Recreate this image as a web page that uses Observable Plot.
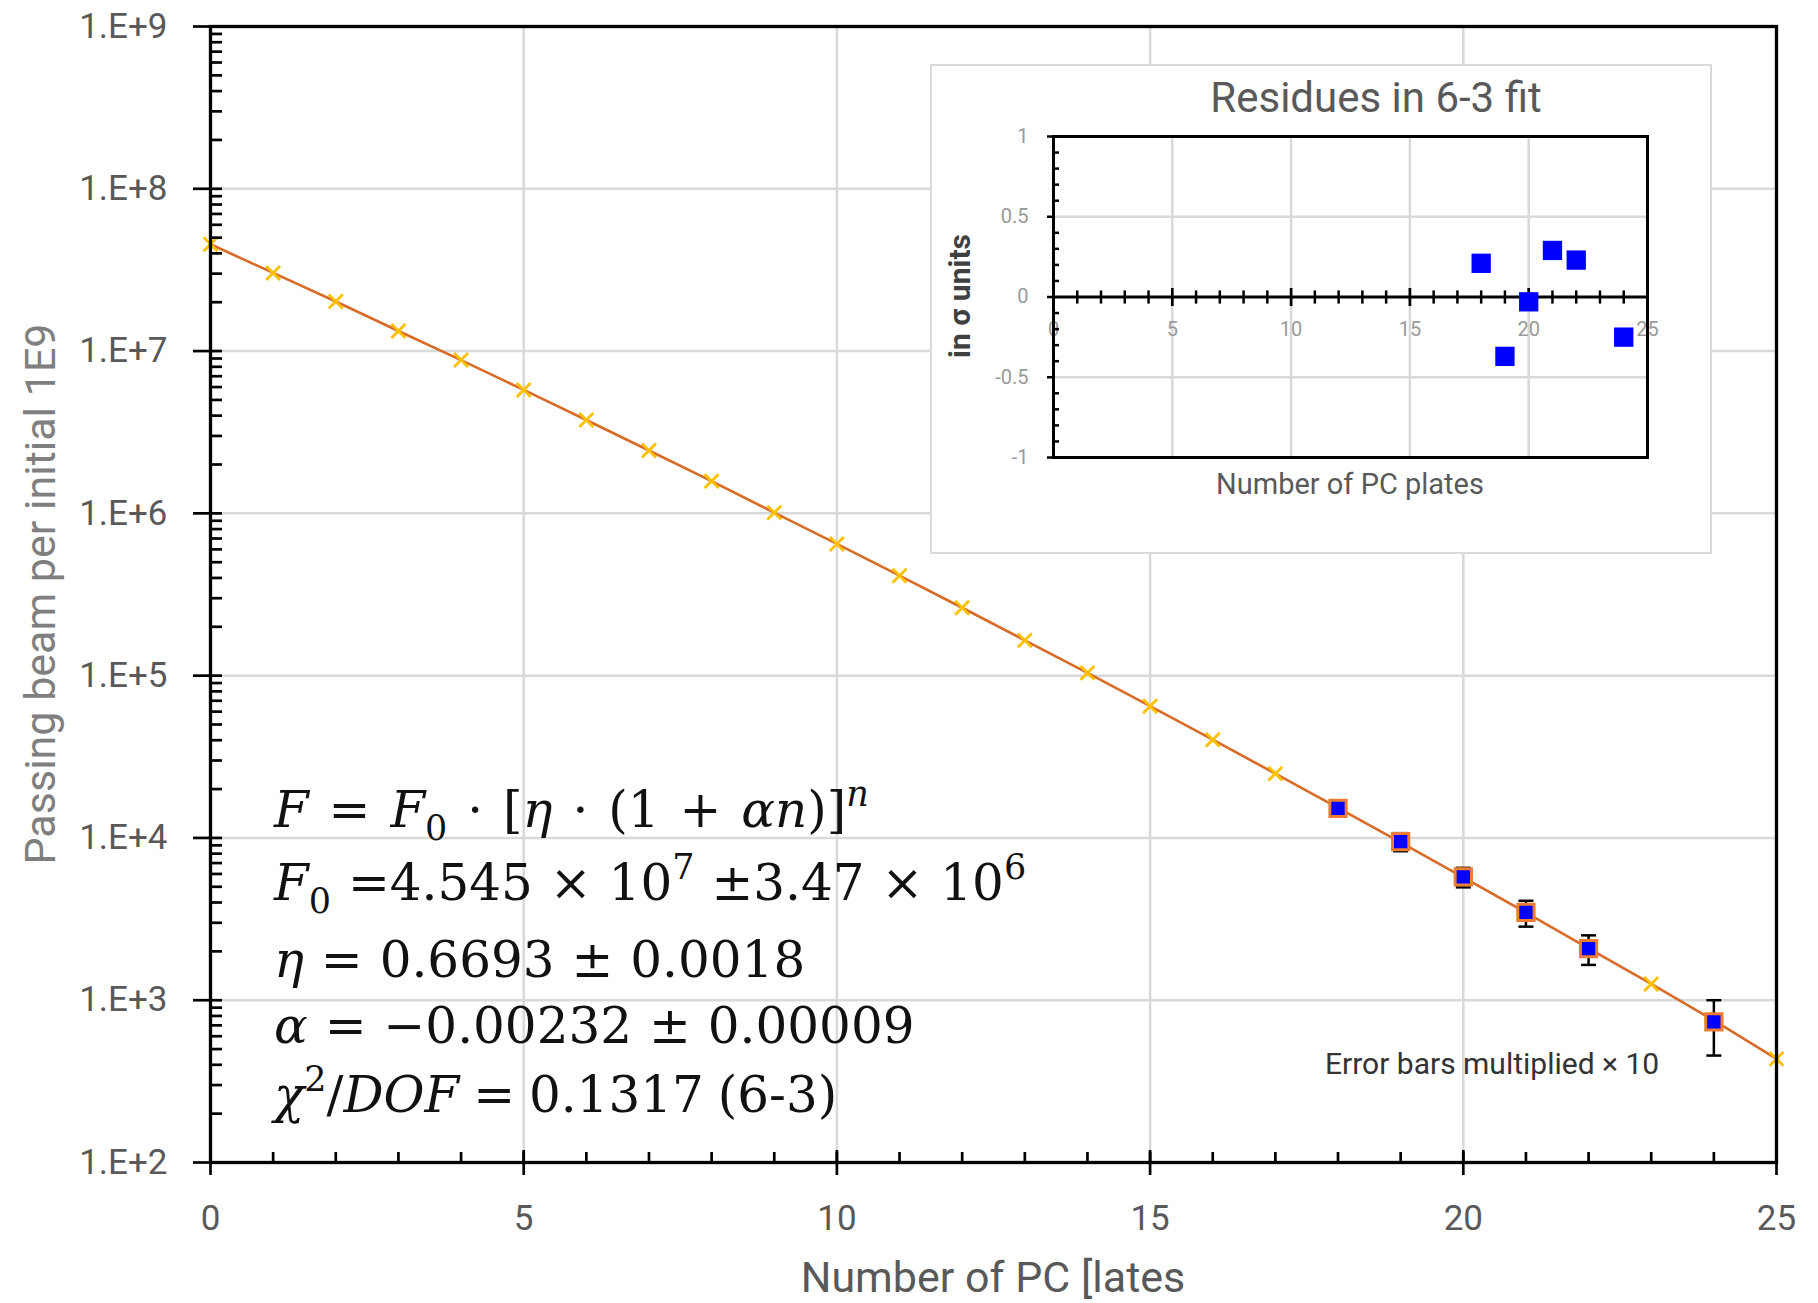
<!DOCTYPE html>
<html>
<head>
<meta charset="utf-8">
<script src="https://cdn.jsdelivr.net/npm/d3@7"></script>
<script src="https://cdn.jsdelivr.net/npm/@observablehq/plot@0.6"></script>
<style>
  html, body { margin: 0; padding: 0; background: #fff; }
  #wrap { position: relative; width: 1818px; height: 1303px; overflow: hidden; }
  #main { position: absolute; left: 0; top: 0; }
  #inset { position: absolute; left: 930px; top: 64px; width: 778px; height: 486px;
           border: 2px solid #d9d9d9; background: #fff; }
  #inset svg { display: block; }
</style>
</head>
<body>
<div id="wrap">
  <div id="main"></div>
  <div id="inset"></div>
</div>
<script>
// ---------- data ----------
const plates = [0,1,2,3,4,5,6,7,8,9,10,11,12,13,14,15,16,17,18,19,20,21,22,23,24,25];
const passingBeam = [4.55e7,3.03e7,2.02e7,1.33e7,8.8e6,5.76e6,3.76e6,2.44e6,1.58e6,1.01e6,
                     6.48e5,4.13e5,2.62e5,1.65e5,1.04e5,6.48e4,4.03e4,2.49e4,1.53e4,9.39e3,
                     5.72e3,3.47e3,2.09e3,1.26e3,750,435];
const measPlates = [18,19,20,21,22,24];
const measValue  = [15200,9500,5750,3480,2080,735];
const measLow    = [14800,8280,4960,2840,1650,456];
const measHigh   = [15600,10700,6540,4100,2510,1000];
const residues   = [0.21,-0.37,-0.03,0.29,0.23,-0.25];

const yDecades = [1e2,1e3,1e4,1e5,1e6,1e7,1e8,1e9];
const xMajor = [0,5,10,15,20,25];
const insetYTicks = [-1,-0.5,0,0.5,1];
const insetXLabels = [0,5,10,15,20,25];

const yTitle = "Passing beam per initial 1E9";
const xTitle = "Number of PC [lates";
const insetTitle = "Residues in 6-3 fit";
const insetXTitle = "Number of PC plates";
const insetYTitle = "in σ units";
const noteText = "Error bars multiplied × 10";

// ---------- helpers ----------
const fitRows = plates.map((n, i) => ({n, v: passingBeam[i]}));
const measRows = measPlates.map((n, i) => ({n, v: measValue[i], lo: measLow[i], hi: measHigh[i]}));
const resRows = measPlates.map((n, i) => ({n, r: residues[i]}));

const minorY = [];
for (let e = 2; e < 9; e++) for (let m = 2; m <= 9; m++) minorY.push(m * Math.pow(10, e));
const xMinor = d3.range(0, 26);
const fmtE = d => "1.E+" + Math.round(Math.log10(d));
const hCap = {draw(ctx, size) { const r = Math.sqrt(size / Math.PI); ctx.moveTo(-r, 0); ctx.lineTo(r, 0); }};
const vBar = {draw(ctx, size) { const r = Math.sqrt(size / Math.PI); ctx.moveTo(0, -r); ctx.lineTo(0, r); }};
const grid = {stroke: "#d9d9d9", strokeOpacity: 1, strokeWidth: 2.5};
const tk = {stroke: "#000", strokeWidth: 2.7, label: null};

// ---------- main chart ----------
const main = Plot.plot({
  width: 1818, height: 1303,
  marginLeft: 210, marginRight: 42, marginTop: 26, marginBottom: 141,
  x: {domain: [0, 25]},
  y: {type: "log", domain: [1e2, 1e9]},
  style: {fontFamily: "Roboto", background: "#fff", color: "#595959"},
  marks: [
    Plot.gridX([5, 10, 15, 20], grid),
    Plot.gridY(yDecades.slice(1, -1), grid),
    Plot.line(fitRows, {x: "n", y: "v", stroke: "#D86B28", strokeWidth: 2.6}),
    Plot.dot(fitRows, {x: "n", y: "v", symbol: "times", r: 6.4, stroke: "#FFC000", strokeWidth: 2.8}),
    Plot.ruleX(measRows, {x: "n", y1: "lo", y2: "hi", stroke: "#000", strokeWidth: 2.5}),
    Plot.dot(measRows, {x: "n", y: "lo", symbol: hCap, r: 7.5, stroke: "#000", strokeWidth: 2.5}),
    Plot.dot(measRows, {x: "n", y: "hi", symbol: hCap, r: 7.5, stroke: "#000", strokeWidth: 2.5}),
    Plot.dot(measRows, {x: "n", y: "v", symbol: "square", r: 9.2, fill: "#0000FF", stroke: "#ED7D31", strokeWidth: 3}),
    Plot.frame({stroke: "#000", strokeWidth: 3.3}),
    Plot.axisY({...tk, ticks: yDecades, tickSize: 17, tickPadding: 26, tickFormat: fmtE, fontSize: 35, fill: "#595959"}),
    Plot.axisY({...tk, ticks: yDecades, tickSize: -12, tickFormat: () => ""}),
    Plot.axisY({...tk, ticks: minorY, tickSize: -12, tickFormat: () => ""}),
    Plot.axisX({...tk, ticks: xMajor, tickSize: 13, tickPadding: 30, tickFormat: d => String(d), fontSize: 35, fill: "#595959"}),
    Plot.axisX({...tk, ticks: xMajor, tickSize: -12, tickFormat: () => ""}),
    Plot.axisX({...tk, ticks: xMinor, tickSize: -10, tickFormat: () => ""})
  ]
});
document.getElementById("main").appendChild(main);

const ms = d3.select(main);
function addText(sel, o) {
  const t = sel.append("text")
    .attr("x", o.x).attr("y", o.y)
    .attr("text-anchor", o.anchor || "start")
    .attr("font-family", o.family || "Roboto")
    .attr("font-size", o.size)
    .attr("font-weight", o.weight || "normal")
    .attr("fill", o.color || "#595959")
    .text(o.text);
  if (o.rotate) t.attr("transform", `rotate(${o.rotate},${o.x},${o.y})`);
  return t;
}
addText(ms, {x: 993, y: 1292, text: xTitle, size: 43, anchor: "middle", color: "#595959"});
addText(ms, {x: 55, y: 594, text: yTitle, size: 43, anchor: "middle", color: "#7f7f7f", rotate: -90});
addText(ms, {x: 1325, y: 1074, text: noteText, size: 30, color: "#333"});

// formula block
const formulaLines = [
  {y: 827, segs: [["F","i"],[" = "],["F","i"],["0","sub"],[" · ["],["η","i"],[" · (1 + "],["αn","i"],[")]"],["n","isup"]]},
  {y: 900, segs: [["F","i"],["0","sub"],[" =4.545 × 10"],["7","sup"],[" ±3.47 × 10"],["6","sup"]]},
  {y: 977, segs: [["η","i"],[" = 0.6693 ± 0.0018"]]},
  {y: 1043, segs: [["α","i"],[" = −0.00232 ± 0.00009"]]},
  {y: 1112, segs: [["χ","i"],["2","sup"],["/"],["DOF","i"],[" = 0.1317 (6-3)"]]}
];
const fSize = 50;
formulaLines.forEach((line, li) => {
  const t = ms.append("text").attr("x", 274).attr("y", line.y)
    .attr("text-anchor", "start")
    .attr("font-family", "DejaVu Serif").attr("font-size", fSize).attr("fill", "#111")
    .attr("word-spacing", li === 0 ? 4 : (li === 4 ? -2 : 1));
  let shift = 0;
  line.segs.forEach(([s, st]) => {
    st = st || "";
    let ns = 0, size = fSize;
    if (st.includes("sub")) { ns = 0.25 * fSize; size = 0.7 * fSize; }
    if (st.includes("sup")) { ns = -0.42 * fSize; size = 0.7 * fSize; }
    t.append("tspan").attr("dy", ns - shift).attr("font-size", size)
      .attr("font-style", st.includes("i") ? "italic" : "normal").text(s);
    shift = ns;
  });
});

// ---------- inset chart ----------
const insetMinorY = [-0.9,-0.8,-0.7,-0.6,-0.4,-0.3,-0.2,-0.1,0.1,0.2,0.3,0.4,0.6,0.7,0.8,0.9];
const insetMinorX = xMinor.filter(d => d % 5 !== 0);
const insetMajorX = [5, 10, 15, 20];
const inset = Plot.plot({
  width: 778, height: 486,
  marginLeft: 121, marginRight: 63, marginTop: 70, marginBottom: 95,
  x: {domain: [0, 25], axis: null},
  y: {domain: [-1, 1]},
  style: {fontFamily: "Roboto", background: "#fff", color: "#595959"},
  marks: [
    Plot.gridX(insetMajorX, grid),
    Plot.gridY([0.5, -0.5], grid),
    Plot.ruleY([0], {stroke: "#000", strokeWidth: 3}),
    Plot.dot(insetMinorX, {x: d => d, y: () => 0, symbol: vBar, r: 6.6, stroke: "#000", strokeWidth: 2.5}),
    Plot.dot(insetMajorX, {x: d => d, y: () => 0, symbol: vBar, r: 9, stroke: "#000", strokeWidth: 2.7}),
    Plot.text(insetXLabels, {x: d => d, y: () => 0, dy: 33, text: d => String(d), fontSize: 20, fill: "#9a9a9a"}),
    Plot.frame({stroke: "#000", strokeWidth: 3}),
    Plot.axisY({ticks: insetYTicks, tickSize: 6, tickPadding: 19, tickFormat: d => String(d), fontSize: 20,
                fill: "#9a9a9a", stroke: "#000", strokeWidth: 2.5, label: null}),
    Plot.axisY({ticks: insetMinorY, tickSize: -6, tickFormat: () => "", stroke: "#000", strokeWidth: 2.5, label: null}),
    Plot.dot(resRows, {x: "n", y: "r", symbol: "square", r: 10.9, fill: "#0000FF"})
  ]
});
document.getElementById("inset").appendChild(inset);
const is = d3.select(inset);
addText(is, {x: 444, y: 46, text: insetTitle, size: 42, anchor: "middle", color: "#595959"});
addText(is, {x: 418, y: 428, text: insetXTitle, size: 29, anchor: "middle", color: "#595959"});
addText(is, {x: 38, y: 230, text: insetYTitle, size: 30, anchor: "middle", color: "#404040", weight: "bold", rotate: -90});
</script>
</body>
</html>
